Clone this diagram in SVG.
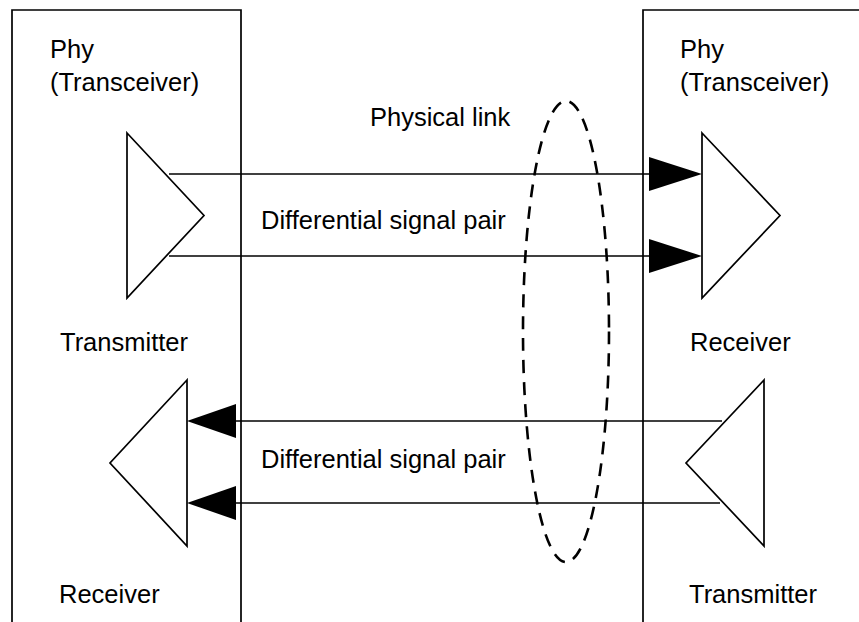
<svg xmlns="http://www.w3.org/2000/svg" width="859" height="622" viewBox="0 0 859 622">
<style>
.box{fill:none;stroke:#000;stroke-width:1.7}
.tri{fill:#fff;stroke:#000;stroke-width:1.7;stroke-linejoin:miter}
.wire{stroke:#000;stroke-width:1.7;fill:none}
.head{fill:#000;stroke:none}
.link{fill:none;stroke:#000;stroke-width:2.6;stroke-dasharray:13 9}
text{font-family:"Liberation Sans",Arial,sans-serif;font-size:25.5px;fill:#000}
</style>
<rect width="859" height="622" fill="#fff"/>
<g id="phy-left">
<path class="box" d="M12,630 V10 H241 V630"/>
<text x="50" y="58">Phy</text>
<text x="50" y="91">(Transceiver)</text>
</g>
<g id="phy-right">
<path class="box" d="M643,630 V10 H870"/>
<text x="680" y="58">Phy</text>
<text x="680" y="91">(Transceiver)</text>
</g>
<g id="tx-left">
<polygon class="tri" points="127,133 204,215.5 127,298"/>
<text x="60" y="351">Transmitter</text>
</g>
<g id="rx-right">
<polygon class="tri" points="702,133 780,215.5 702,298"/>
<text x="690" y="351">Receiver</text>
</g>
<g id="rx-left">
<polygon class="tri" points="187,380 110,463 187,546"/>
<text x="59" y="603">Receiver</text>
</g>
<g id="tx-right">
<polygon class="tri" points="764,380 686,463 764,546"/>
<text x="689" y="603">Transmitter</text>
</g>
<g id="connectors">
<line class="wire" x1="169" y1="174" x2="650" y2="174"/>
<line class="wire" x1="169" y1="256" x2="650" y2="256"/>
<polygon class="head" points="649,157 702,174 649,191"/>
<polygon class="head" points="649,239 702,256 649,273"/>
<line class="wire" x1="722" y1="421" x2="235" y2="421"/>
<line class="wire" x1="720" y1="503" x2="235" y2="503"/>
<polygon class="head" points="236,404 187,421 236,438"/>
<polygon class="head" points="236,486 187,503 236,520"/>
</g>
<g id="physical-link">
<ellipse class="link" cx="566" cy="331.5" rx="43" ry="230.5"/>
<text x="370" y="126">Physical link</text>
</g>
<g id="labels">
<text x="261" y="229">Differential signal pair</text>
<text x="261" y="468">Differential signal pair</text>
</g>
</svg>
